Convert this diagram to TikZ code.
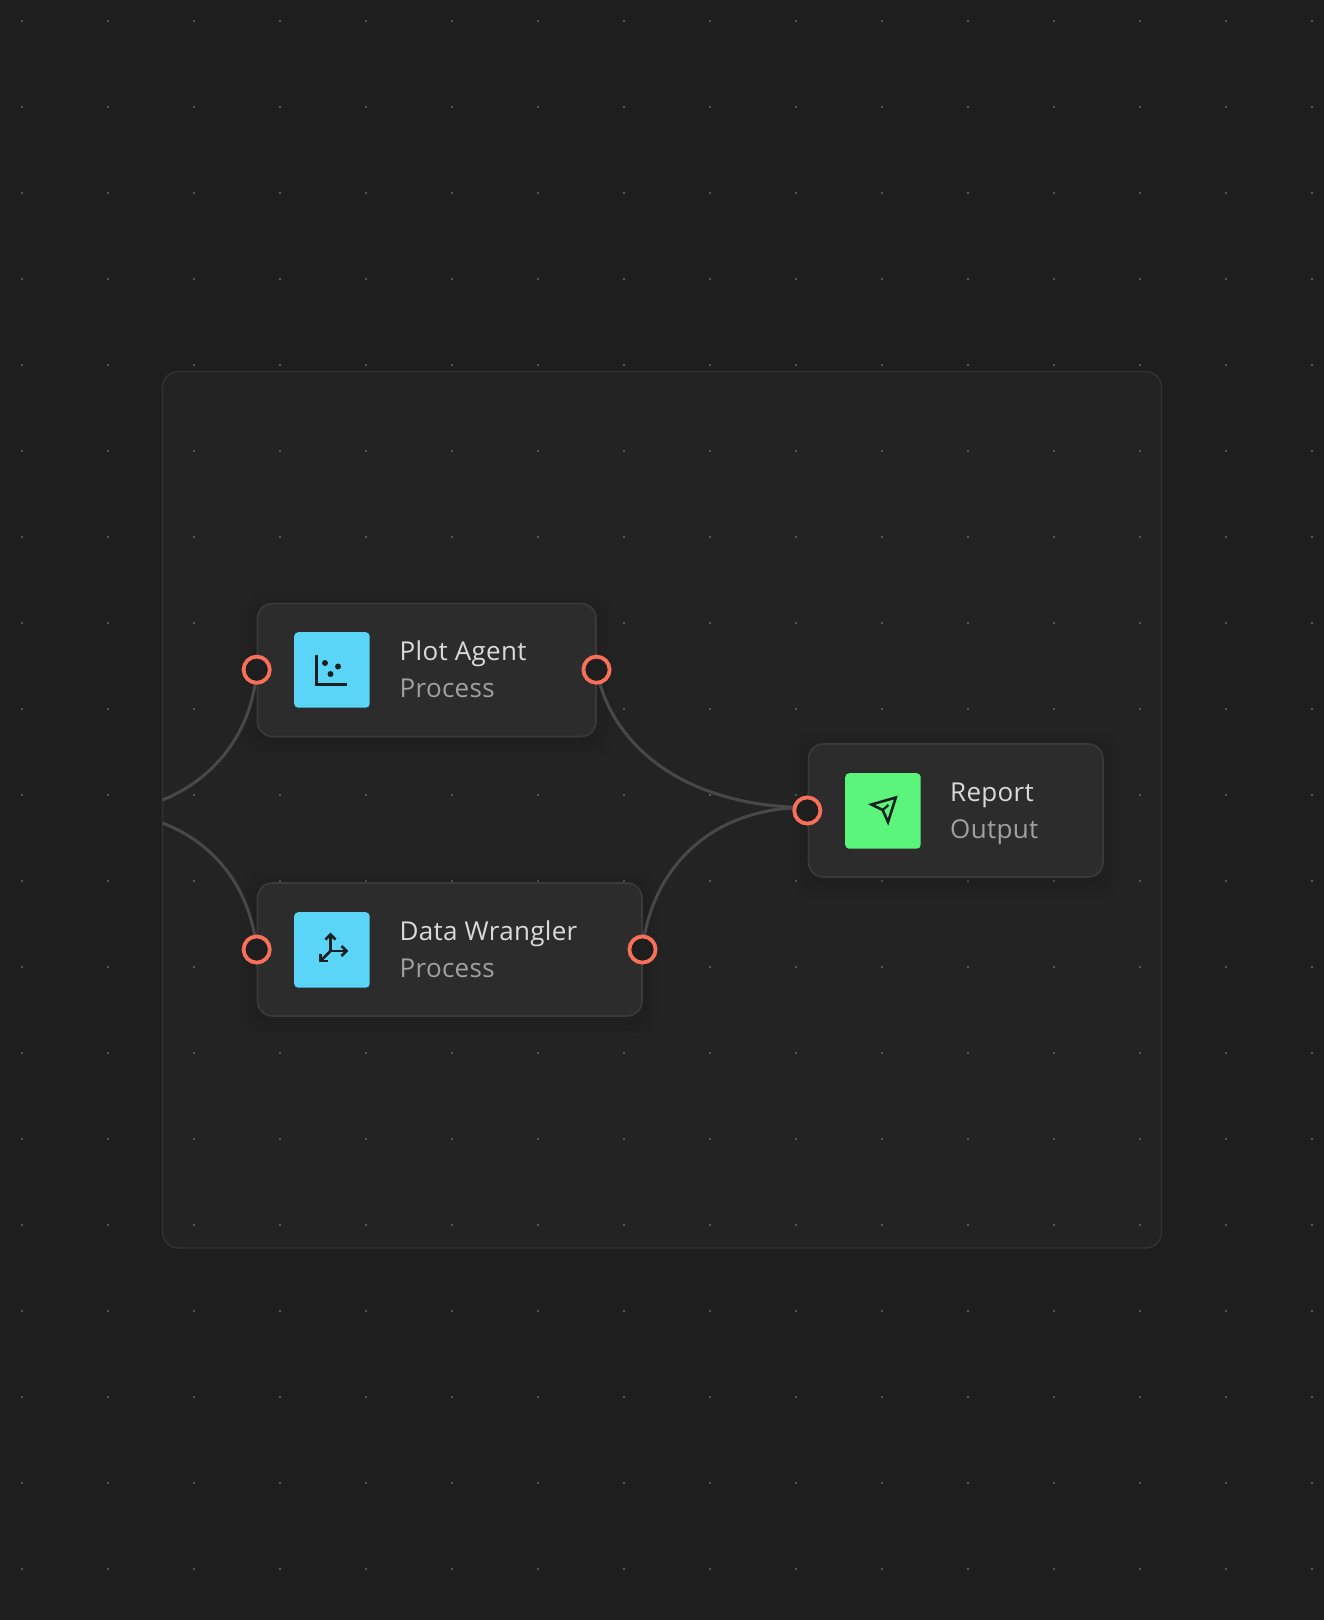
\documentclass[tikz,border=0pt]{standalone}
\usepackage{fontspec}
\setmainfont{Open Sans}[LetterSpace=1.2]
\usetikzlibrary{calc}
\definecolor{bgc}{HTML}{1E1E1E}
\definecolor{panelc}{HTML}{232323}
\definecolor{panelb}{HTML}{333333}
\definecolor{cardc}{HTML}{2C2C2C}
\definecolor{cardb}{HTML}{3A3A3A}
\definecolor{edgec}{HTML}{484848}
\definecolor{dotc}{HTML}{555555}
\definecolor{handlec}{HTML}{F9705A}
\definecolor{bluec}{HTML}{5AD5F7}
\definecolor{greenc}{HTML}{5CF57C}
\definecolor{inkc}{HTML}{1B1F22}
\definecolor{titlec}{HTML}{DADADA}
\definecolor{subc}{HTML}{A0A0A0}
\pgfdeclarelayer{bg}
\pgfdeclarelayer{edges}
\pgfsetlayers{bg,edges,main}
\tikzset{
  x=1pt,y=-1pt,
  cardbox/.style={draw=cardb,line width=1.6pt,fill=cardc,rounded corners=15pt,inner sep=0pt,outer sep=0pt,minimum height=133pt,anchor=north west},
  iconbox/.style={fill=#1,rounded corners=4pt,minimum width=75.5pt,minimum height=75.5pt,inner sep=0pt,anchor=north west},
  porthole/.style={circle,draw=handlec,line width=3.8pt,fill=bgc,minimum size=26.2pt,inner sep=0pt,outer sep=0pt},
  titletext/.style={anchor=base west,inner sep=0pt,text=titlec,font=\fontsize{26}{30}\selectfont},
  subtext/.style={anchor=base west,inner sep=0pt,text=subc,font=\fontsize{26}{30}\selectfont},
  edgeline/.style={draw=edgec,line width=3pt},
  inkline/.style={draw=inkc,line width=2.8pt},
}
\newcommand{\softshadow}[4]{%
  \foreach \g in {16,12,8,4}{
    \fill[black,opacity=0.028,rounded corners=18pt] (#1-\g,#2-\g+5) rectangle (#3+\g,#4+\g+5);
  }%
}
\begin{document}
\begin{tikzpicture}
\begin{pgfonlayer}{bg}
  \fill[bgc] (0,0) rectangle (1324,1620);
  \path[use as bounding box] (0,0) rectangle (1324,1620);
  \draw[panelb,fill=panelc,line width=1.4pt,rounded corners=16pt] (162.5,371.5) rectangle (1161.5,1248);
  \foreach \i in {0,...,15}{
    \foreach \j in {0,...,18}{
      \fill[dotc] ({21+86*\i},{20+86*\j}) rectangle ++(2,2);
    }
  }
  \softshadow{257}{603}{596}{736}
  \softshadow{257}{882}{642}{1016}
  \softshadow{808}{744}{1103}{877}
\end{pgfonlayer}

\node[cardbox,minimum width=338.5pt] (plot) at (257.5,603.5) {};
\node[cardbox,minimum width=384.5pt] (wrangler) at (257.5,883) {};
\node[cardbox,minimum width=294.5pt] (report) at (808.5,744) {};

\node[iconbox=bluec] (ploticon) at (294,632) {};
\node[iconbox=bluec] (wrangicon) at (294,912) {};
\node[iconbox=greenc] (reporticon) at (845,773) {};

\node[titletext] (plott) at (399.5,660) {Plot Agent};
\node[subtext] (plots) at (399.5,697) {Process};
\node[titletext] (wrangt) at (399.5,940) {Data Wrangler};
\node[subtext] (wrangs) at (399.5,977) {Process};
\node[titletext] (reportt) at (950,801) {Report};
\node[subtext] (reports) at (950,838) {Output};

\node[porthole] (pl) at (256.7,669.7) {};
\node[porthole] (pr) at (596.5,669.7) {};
\node[porthole] (wl) at (256.7,949.5) {};
\node[porthole] (wr) at (642.5,949.5) {};
\node[porthole] (rl) at (807.3,810.5) {};

\coordinate (leftA) at (162.5,800);
\coordinate (leftB) at (162.5,823);

\begin{pgfonlayer}{edges}
  \draw[edgeline] (pl.center) .. controls (252,735) and (212,780) .. (leftA);
  \draw[edgeline] (wl.center) .. controls (250,885) and (212,842) .. (leftB);
  \draw[edgeline] (pr.center) .. controls (612,750) and (690,807) .. ([yshift=3pt]rl.center);
  \draw[edgeline] (wr.center) .. controls (650,875) and (705,807) .. ([yshift=3pt]rl.center);
\end{pgfonlayer}

% plot icon
\draw[inkline,line width=3pt] (316.5,654.5) -- (316.5,684.5) -- (347,684.5);
\fill[inkc] (325,663) circle (3);
\fill[inkc] (338,666.5) circle (3);
\fill[inkc] (330.5,674) circle (3);

% axes icon
\draw[inkline] (330.5,951) -- (330.5,935);
\draw[inkline] (330.5,951) -- (346,951);
\draw[inkline] (330.5,951) -- (320.5,961);
\draw[inkline] (325.5,939.5) -- (330.5,934.5) -- (335.5,939.5);
\draw[inkline] (341.5,946) -- (346.5,951) -- (341.5,956);
\draw[inkline] (320.5,953.5) -- (320.5,961) -- (328,961);

% paper plane icon
\draw[inkline,line width=2.6pt,line join=miter] (871.5,804.5) -- (895.8,797.5) -- (888,822) -- (882.7,810) -- cycle;
\draw[inkline,line width=2.2pt] (882.7,810) -- (888.5,805);
\end{tikzpicture}
\end{document}
